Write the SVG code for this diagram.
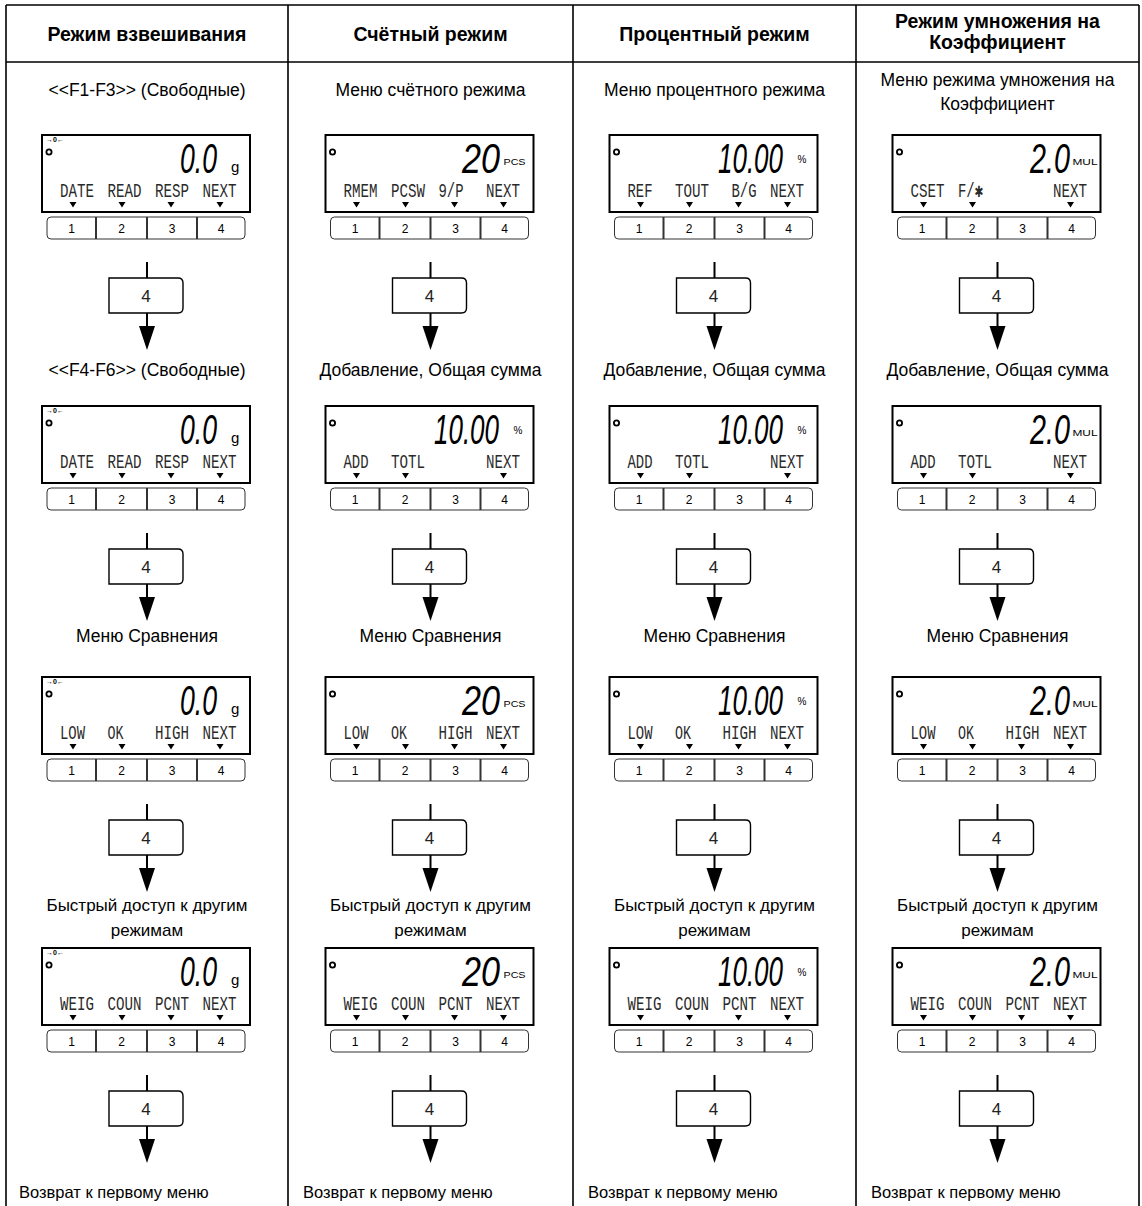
<svg xmlns="http://www.w3.org/2000/svg" xmlns:xlink="http://www.w3.org/1999/xlink" width="1142" height="1206" viewBox="0 0 1142 1206">
<style>
.hdr{font-family:"Liberation Sans",Arial,sans-serif;font-weight:bold;font-size:19.5px;text-anchor:middle;fill:#000}
.lbl{font-family:"Liberation Sans",Arial,sans-serif;font-size:17.5px;text-anchor:middle;fill:#000}
.lbl4{font-family:"Liberation Sans",Arial,sans-serif;font-size:17px;text-anchor:middle;fill:#000}
.lbl5{font-family:"Liberation Sans",Arial,sans-serif;font-size:16.5px;fill:#000}
.grid{stroke:#000;stroke-width:1.6;fill:none}
.lcdt{font-family:"Liberation Mono","DejaVu Sans Mono",monospace;font-size:20px;fill:#2a2a2a}
.big{font-family:"Liberation Sans",Arial,sans-serif;font-style:italic;font-size:42px;fill:#000}
.unit{font-family:"Liberation Sans",Arial,sans-serif;fill:#000}
.kt{font-family:"Liberation Sans",Arial,sans-serif;font-size:12px;text-anchor:middle;fill:#000}
.bx{fill:#fff;stroke:#000;stroke-width:1.4}
.bxt{font-family:"Liberation Sans",Arial,sans-serif;font-size:17px;text-anchor:middle;fill:#222}
.con{stroke:#000;stroke-width:2;fill:none}
</style>
<defs>
<marker id="ah" markerUnits="userSpaceOnUse" markerWidth="24" markerHeight="18" viewBox="0 0 24 18" refX="14" refY="9" orient="auto">
<path d="M0,1 L24,9 L0,17 z" fill="#000"/>
</marker>
<g id="frame">
<rect x="-105" y="0" width="208" height="77" fill="#fff" stroke="#000" stroke-width="2"/>
<circle cx="-98" cy="17" r="2.6" fill="none" stroke="#000" stroke-width="1.8"/>
<rect x="-100" y="82" width="198" height="22" rx="4" fill="#fff" stroke="#333" stroke-width="1"/>
<path d="M-51,82 v22 M0,82 v22 M50,82 v22" stroke="#333" stroke-width="2"/>
<text class="kt" x="-75.5" y="97.5">1</text>
<text class="kt" x="-25.5" y="97.5">2</text>
<text class="kt" x="25" y="97.5">3</text>
<text class="kt" x="74" y="97.5">4</text>
</g>
<path id="a4" d="M-77.5,67 h7 l-3.5,5.5z M-28.5,67 h7 l-3.5,5.5z M20.5,67 h7 l-3.5,5.5z M69.5,67 h7 l-3.5,5.5z" fill="#000"/>
<path id="a3" d="M-77.5,67 h7 l-3.5,5.5z M-28.5,67 h7 l-3.5,5.5z M69.5,67 h7 l-3.5,5.5z" fill="#000"/>
<g id="wnum">
<text x="-101" y="7" class="unit" font-size="7" font-weight="bold">→0←</text>
<text class="big" x="33" y="38" textLength="37" lengthAdjust="spacingAndGlyphs">0.0</text>
<text class="unit" x="84" y="37" font-size="15">g</text>
</g>
<g id="cnum">
<text class="big" x="31.5" y="38" textLength="38" lengthAdjust="spacingAndGlyphs">20</text>
<text class="unit" x="73" y="30" font-size="9.5" textLength="22" lengthAdjust="spacingAndGlyphs">PCS</text>
</g>
<g id="pnum">
<text class="big" x="3.5" y="38" textLength="65" lengthAdjust="spacingAndGlyphs">10.00</text>
<text class="unit" x="83" y="28" font-size="10">%</text>
</g>
<g id="mnum">
<text class="big" x="32.5" y="38" textLength="40" lengthAdjust="spacingAndGlyphs">2.0</text>
<text class="unit" x="75" y="30" font-size="9.5" textLength="25" lengthAdjust="spacingAndGlyphs">MUL</text>
</g>
<g id="keybox">
<path class="bx" d="M-38,0 H31 Q36,0 36,5 V30 Q36,35 31,35 H-38 Z"/>
<text class="bxt" x="-1" y="23.5">4</text>
</g>
</defs>

<g id="table">
<path class="grid" d="M6,5 H1139 M6,62 H1139 M6,5 V1206 M288,5 V1206 M573,5 V1206 M856,5 V1206 M1139,5 V1206"/>
</g>

<g id="headers">
<text class="hdr" x="147" y="41">Режим взвешивания</text>
<text class="hdr" x="430.5" y="41">Счётный режим</text>
<text class="hdr" x="714.5" y="41">Процентный режим</text>
<text class="hdr" x="997.5" y="28">Режим умножения на</text>
<text class="hdr" x="997.5" y="49">Коэффициент</text>
</g>

<g id="labels">
<text class="lbl" x="147" y="96">&lt;&lt;F1-F3&gt;&gt; (Свободные)</text>
<text class="lbl" x="430.5" y="96">Меню счётного режима</text>
<text class="lbl" x="714.5" y="96">Меню процентного режима</text>
<text class="lbl" x="997.5" y="86">Меню режима умножения на</text>
<text class="lbl" x="997.5" y="110">Коэффициент</text>

<text class="lbl" x="147" y="376">&lt;&lt;F4-F6&gt;&gt; (Свободные)</text>
<text class="lbl" x="430.5" y="376">Добавление, Общая сумма</text>
<text class="lbl" x="714.5" y="376">Добавление, Общая сумма</text>
<text class="lbl" x="997.5" y="376">Добавление, Общая сумма</text>

<text class="lbl" x="147" y="642">Меню Сравнения</text>
<text class="lbl" x="430.5" y="642">Меню Сравнения</text>
<text class="lbl" x="714.5" y="642">Меню Сравнения</text>
<text class="lbl" x="997.5" y="642">Меню Сравнения</text>

<text class="lbl4" x="147" y="911">Быстрый доступ к другим</text>
<text class="lbl4" x="147" y="936">режимам</text>
<text class="lbl4" x="430.5" y="911">Быстрый доступ к другим</text>
<text class="lbl4" x="430.5" y="936">режимам</text>
<text class="lbl4" x="714.5" y="911">Быстрый доступ к другим</text>
<text class="lbl4" x="714.5" y="936">режимам</text>
<text class="lbl4" x="997.5" y="911">Быстрый доступ к другим</text>
<text class="lbl4" x="997.5" y="936">режимам</text>

<text class="lbl5" x="19" y="1198">Возврат к первому меню</text>
<text class="lbl5" x="303" y="1198">Возврат к первому меню</text>
<text class="lbl5" x="588" y="1198">Возврат к первому меню</text>
<text class="lbl5" x="871" y="1198">Возврат к первому меню</text>
</g>

<!-- Column 1: weighing -->
<g id="c1-d1" transform="translate(147,135)"><use href="#frame"/><use href="#a4"/><use href="#wnum"/>
<text class="lcdt" x="-87" y="62" textLength="34" lengthAdjust="spacingAndGlyphs">DATE</text>
<text class="lcdt" x="-39.5" y="62" textLength="34" lengthAdjust="spacingAndGlyphs">READ</text>
<text class="lcdt" x="8" y="62" textLength="34" lengthAdjust="spacingAndGlyphs">RESP</text>
<text class="lcdt" x="55.5" y="62" textLength="34" lengthAdjust="spacingAndGlyphs">NEXT</text></g>
<g id="c1-d2" transform="translate(147,406)"><use href="#frame"/><use href="#a4"/><use href="#wnum"/>
<text class="lcdt" x="-87" y="62" textLength="34" lengthAdjust="spacingAndGlyphs">DATE</text>
<text class="lcdt" x="-39.5" y="62" textLength="34" lengthAdjust="spacingAndGlyphs">READ</text>
<text class="lcdt" x="8" y="62" textLength="34" lengthAdjust="spacingAndGlyphs">RESP</text>
<text class="lcdt" x="55.5" y="62" textLength="34" lengthAdjust="spacingAndGlyphs">NEXT</text></g>
<g id="c1-d3" transform="translate(147,677)"><use href="#frame"/><use href="#a4"/><use href="#wnum"/>
<text class="lcdt" x="-87" y="62" textLength="25" lengthAdjust="spacingAndGlyphs">LOW</text>
<text class="lcdt" x="-39.5" y="62" textLength="16" lengthAdjust="spacingAndGlyphs">OK</text>
<text class="lcdt" x="8" y="62" textLength="34" lengthAdjust="spacingAndGlyphs">HIGH</text>
<text class="lcdt" x="55.5" y="62" textLength="34" lengthAdjust="spacingAndGlyphs">NEXT</text></g>
<g id="c1-d4" transform="translate(147,948)"><use href="#frame"/><use href="#a4"/><use href="#wnum"/>
<text class="lcdt" x="-87" y="62" textLength="34" lengthAdjust="spacingAndGlyphs">WEIG</text>
<text class="lcdt" x="-39.5" y="62" textLength="34" lengthAdjust="spacingAndGlyphs">COUN</text>
<text class="lcdt" x="8" y="62" textLength="34" lengthAdjust="spacingAndGlyphs">PCNT</text>
<text class="lcdt" x="55.5" y="62" textLength="34" lengthAdjust="spacingAndGlyphs">NEXT</text></g>

<!-- Column 2: counting -->
<g id="c2-d1" transform="translate(430.5,135)"><use href="#frame"/><use href="#a4"/><use href="#cnum"/>
<text class="lcdt" x="-87" y="62" textLength="34" lengthAdjust="spacingAndGlyphs">RMEM</text>
<text class="lcdt" x="-39.5" y="62" textLength="34" lengthAdjust="spacingAndGlyphs">PCSW</text>
<text class="lcdt" x="8" y="62" textLength="25" lengthAdjust="spacingAndGlyphs">9/P</text>
<text class="lcdt" x="55.5" y="62" textLength="34" lengthAdjust="spacingAndGlyphs">NEXT</text></g>
<g id="c2-d2" transform="translate(430.5,406)"><use href="#frame"/><use href="#a3"/><use href="#pnum"/>
<text class="lcdt" x="-87" y="62" textLength="25" lengthAdjust="spacingAndGlyphs">ADD</text>
<text class="lcdt" x="-39.5" y="62" textLength="34" lengthAdjust="spacingAndGlyphs">TOTL</text>
<text class="lcdt" x="55.5" y="62" textLength="34" lengthAdjust="spacingAndGlyphs">NEXT</text></g>
<g id="c2-d3" transform="translate(430.5,677)"><use href="#frame"/><use href="#a4"/><use href="#cnum"/>
<text class="lcdt" x="-87" y="62" textLength="25" lengthAdjust="spacingAndGlyphs">LOW</text>
<text class="lcdt" x="-39.5" y="62" textLength="16" lengthAdjust="spacingAndGlyphs">OK</text>
<text class="lcdt" x="8" y="62" textLength="34" lengthAdjust="spacingAndGlyphs">HIGH</text>
<text class="lcdt" x="55.5" y="62" textLength="34" lengthAdjust="spacingAndGlyphs">NEXT</text></g>
<g id="c2-d4" transform="translate(430.5,948)"><use href="#frame"/><use href="#a4"/><use href="#cnum"/>
<text class="lcdt" x="-87" y="62" textLength="34" lengthAdjust="spacingAndGlyphs">WEIG</text>
<text class="lcdt" x="-39.5" y="62" textLength="34" lengthAdjust="spacingAndGlyphs">COUN</text>
<text class="lcdt" x="8" y="62" textLength="34" lengthAdjust="spacingAndGlyphs">PCNT</text>
<text class="lcdt" x="55.5" y="62" textLength="34" lengthAdjust="spacingAndGlyphs">NEXT</text></g>

<!-- Column 3: percent -->
<g id="c3-d1" transform="translate(714.5,135)"><use href="#frame"/><use href="#a4"/><use href="#pnum"/>
<text class="lcdt" x="-87" y="62" textLength="25" lengthAdjust="spacingAndGlyphs">REF</text>
<text class="lcdt" x="-39.5" y="62" textLength="34" lengthAdjust="spacingAndGlyphs">TOUT</text>
<text class="lcdt" x="17" y="62" textLength="25" lengthAdjust="spacingAndGlyphs">B/G</text>
<text class="lcdt" x="55.5" y="62" textLength="34" lengthAdjust="spacingAndGlyphs">NEXT</text></g>
<g id="c3-d2" transform="translate(714.5,406)"><use href="#frame"/><use href="#a3"/><use href="#pnum"/>
<text class="lcdt" x="-87" y="62" textLength="25" lengthAdjust="spacingAndGlyphs">ADD</text>
<text class="lcdt" x="-39.5" y="62" textLength="34" lengthAdjust="spacingAndGlyphs">TOTL</text>
<text class="lcdt" x="55.5" y="62" textLength="34" lengthAdjust="spacingAndGlyphs">NEXT</text></g>
<g id="c3-d3" transform="translate(714.5,677)"><use href="#frame"/><use href="#a4"/><use href="#pnum"/>
<text class="lcdt" x="-87" y="62" textLength="25" lengthAdjust="spacingAndGlyphs">LOW</text>
<text class="lcdt" x="-39.5" y="62" textLength="16" lengthAdjust="spacingAndGlyphs">OK</text>
<text class="lcdt" x="8" y="62" textLength="34" lengthAdjust="spacingAndGlyphs">HIGH</text>
<text class="lcdt" x="55.5" y="62" textLength="34" lengthAdjust="spacingAndGlyphs">NEXT</text></g>
<g id="c3-d4" transform="translate(714.5,948)"><use href="#frame"/><use href="#a4"/><use href="#pnum"/>
<text class="lcdt" x="-87" y="62" textLength="34" lengthAdjust="spacingAndGlyphs">WEIG</text>
<text class="lcdt" x="-39.5" y="62" textLength="34" lengthAdjust="spacingAndGlyphs">COUN</text>
<text class="lcdt" x="8" y="62" textLength="34" lengthAdjust="spacingAndGlyphs">PCNT</text>
<text class="lcdt" x="55.5" y="62" textLength="34" lengthAdjust="spacingAndGlyphs">NEXT</text></g>

<!-- Column 4: multiplication -->
<g id="c4-d1" transform="translate(997.5,135)"><use href="#frame"/><use href="#a3"/><use href="#mnum"/>
<text class="lcdt" x="-87" y="62" textLength="34" lengthAdjust="spacingAndGlyphs">CSET</text>
<text class="lcdt" x="-39.5" y="62" textLength="25" lengthAdjust="spacingAndGlyphs">F/✱</text>
<text class="lcdt" x="55.5" y="62" textLength="34" lengthAdjust="spacingAndGlyphs">NEXT</text></g>
<g id="c4-d2" transform="translate(997.5,406)"><use href="#frame"/><use href="#a3"/><use href="#mnum"/>
<text class="lcdt" x="-87" y="62" textLength="25" lengthAdjust="spacingAndGlyphs">ADD</text>
<text class="lcdt" x="-39.5" y="62" textLength="34" lengthAdjust="spacingAndGlyphs">TOTL</text>
<text class="lcdt" x="55.5" y="62" textLength="34" lengthAdjust="spacingAndGlyphs">NEXT</text></g>
<g id="c4-d3" transform="translate(997.5,677)"><use href="#frame"/><use href="#a4"/><use href="#mnum"/>
<text class="lcdt" x="-87" y="62" textLength="25" lengthAdjust="spacingAndGlyphs">LOW</text>
<text class="lcdt" x="-39.5" y="62" textLength="16" lengthAdjust="spacingAndGlyphs">OK</text>
<text class="lcdt" x="8" y="62" textLength="34" lengthAdjust="spacingAndGlyphs">HIGH</text>
<text class="lcdt" x="55.5" y="62" textLength="34" lengthAdjust="spacingAndGlyphs">NEXT</text></g>
<g id="c4-d4" transform="translate(997.5,948)"><use href="#frame"/><use href="#a4"/><use href="#mnum"/>
<text class="lcdt" x="-87" y="62" textLength="34" lengthAdjust="spacingAndGlyphs">WEIG</text>
<text class="lcdt" x="-39.5" y="62" textLength="34" lengthAdjust="spacingAndGlyphs">COUN</text>
<text class="lcdt" x="8" y="62" textLength="34" lengthAdjust="spacingAndGlyphs">PCNT</text>
<text class="lcdt" x="55.5" y="62" textLength="34" lengthAdjust="spacingAndGlyphs">NEXT</text></g>

<!-- Key boxes -->
<g id="k-c1-r1" transform="translate(147,278)"><use href="#keybox"/></g>
<g id="k-c1-r2" transform="translate(147,549)"><use href="#keybox"/></g>
<g id="k-c1-r3" transform="translate(147,820)"><use href="#keybox"/></g>
<g id="k-c1-r4" transform="translate(147,1091)"><use href="#keybox"/></g>
<g id="k-c2-r1" transform="translate(430.5,278)"><use href="#keybox"/></g>
<g id="k-c2-r2" transform="translate(430.5,549)"><use href="#keybox"/></g>
<g id="k-c2-r3" transform="translate(430.5,820)"><use href="#keybox"/></g>
<g id="k-c2-r4" transform="translate(430.5,1091)"><use href="#keybox"/></g>
<g id="k-c3-r1" transform="translate(714.5,278)"><use href="#keybox"/></g>
<g id="k-c3-r2" transform="translate(714.5,549)"><use href="#keybox"/></g>
<g id="k-c3-r3" transform="translate(714.5,820)"><use href="#keybox"/></g>
<g id="k-c3-r4" transform="translate(714.5,1091)"><use href="#keybox"/></g>
<g id="k-c4-r1" transform="translate(997.5,278)"><use href="#keybox"/></g>
<g id="k-c4-r2" transform="translate(997.5,549)"><use href="#keybox"/></g>
<g id="k-c4-r3" transform="translate(997.5,820)"><use href="#keybox"/></g>
<g id="k-c4-r4" transform="translate(997.5,1091)"><use href="#keybox"/></g>

<g id="connectors" class="con">
<path d="M147,262 V278 M430.5,262 V278 M714.5,262 V278 M997.5,262 V278"/>
<path d="M147,533 V549 M430.5,533 V549 M714.5,533 V549 M997.5,533 V549"/>
<path d="M147,804 V820 M430.5,804 V820 M714.5,804 V820 M997.5,804 V820"/>
<path d="M147,1075 V1091 M430.5,1075 V1091 M714.5,1075 V1091 M997.5,1075 V1091"/>
<line x1="147" y1="313" x2="147" y2="340" marker-end="url(#ah)"/>
<line x1="430.5" y1="313" x2="430.5" y2="340" marker-end="url(#ah)"/>
<line x1="714.5" y1="313" x2="714.5" y2="340" marker-end="url(#ah)"/>
<line x1="997.5" y1="313" x2="997.5" y2="340" marker-end="url(#ah)"/>
<line x1="147" y1="584" x2="147" y2="611" marker-end="url(#ah)"/>
<line x1="430.5" y1="584" x2="430.5" y2="611" marker-end="url(#ah)"/>
<line x1="714.5" y1="584" x2="714.5" y2="611" marker-end="url(#ah)"/>
<line x1="997.5" y1="584" x2="997.5" y2="611" marker-end="url(#ah)"/>
<line x1="147" y1="855" x2="147" y2="882" marker-end="url(#ah)"/>
<line x1="430.5" y1="855" x2="430.5" y2="882" marker-end="url(#ah)"/>
<line x1="714.5" y1="855" x2="714.5" y2="882" marker-end="url(#ah)"/>
<line x1="997.5" y1="855" x2="997.5" y2="882" marker-end="url(#ah)"/>
<line x1="147" y1="1126" x2="147" y2="1153" marker-end="url(#ah)"/>
<line x1="430.5" y1="1126" x2="430.5" y2="1153" marker-end="url(#ah)"/>
<line x1="714.5" y1="1126" x2="714.5" y2="1153" marker-end="url(#ah)"/>
<line x1="997.5" y1="1126" x2="997.5" y2="1153" marker-end="url(#ah)"/>
</g>
</svg>
